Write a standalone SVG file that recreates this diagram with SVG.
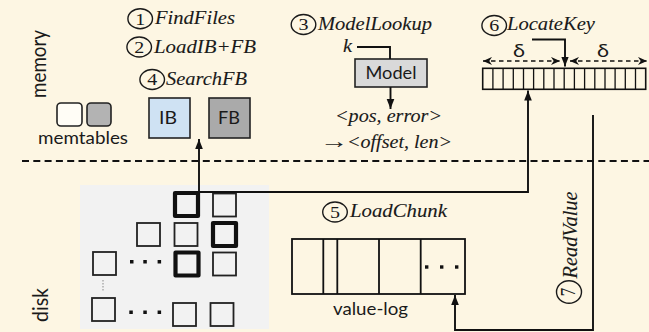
<svg xmlns="http://www.w3.org/2000/svg" width="649" height="332" viewBox="0 0 649 332">
  <defs>
    <style>
      .bg { fill: #fdf6e3; }
      .sans { font-family: Lato, "Noto Sans", "DejaVu Sans", sans-serif; fill: #1a1a1a; }
      .it { font-family: "Liberation Serif", "Times New Roman", serif; font-style: italic; fill: #1a1a1a; font-size: 19.5px; stroke: #1a1a1a; stroke-width: 0.1; }
      .num { font-family: "Liberation Serif", "Times New Roman", serif; fill: #1a1a1a; font-size: 17px; text-anchor: middle; }
      .ring { fill: none; stroke: #1a1a1a; stroke-width: 1.4; }
      .line { fill: none; stroke: #111; stroke-width: 1.9; }
      .box { stroke: #222; stroke-width: 1.6; }
      .sq { fill: none; stroke: #222; stroke-width: 1.8; }
      .sqb { fill: none; stroke: #111; stroke-width: 4.2; stroke-linejoin: round; }
      .dot { fill: #111; }
    </style>
    <marker id="arr" viewBox="0 0 10 10" refX="10" refY="5" markerWidth="10" markerHeight="10" markerUnits="userSpaceOnUse" orient="auto">
      <path d="M0,1.2 L10,5 L0,8.8 z" fill="#111"/>
    </marker>
    <marker id="barb" viewBox="0 0 10 10" refX="10" refY="5" markerWidth="9" markerHeight="9" markerUnits="userSpaceOnUse" orient="auto-start-reverse">
      <path d="M0,0.5 L10,5 L0,9.5 L3,5 z" fill="#111"/>
    </marker>
  </defs>

  <rect class="bg" x="0" y="0" width="649" height="332"/>

  <!-- memory / disk boundary -->
  <line x1="22" y1="161" x2="649" y2="161" stroke="#111" stroke-width="2" stroke-dasharray="7 4.3"/>

  <!-- side labels -->
  <text class="sans" font-size="17" text-anchor="middle" textLength="68" lengthAdjust="spacingAndGlyphs" transform="translate(46,64) scale(1.2,1) rotate(-90)">memory</text>
  <text class="sans" font-size="17" text-anchor="middle" textLength="34" lengthAdjust="spacingAndGlyphs" transform="translate(48,305) scale(1.2,1) rotate(-90)">disk</text>

  <!-- memtables -->
  <g id="memtables">
    <rect x="57" y="103" width="25" height="23" rx="4" fill="#fffdf6" class="box"/>
    <rect x="87" y="103" width="24" height="23" rx="4" fill="#b3b3b3" class="box"/>
    <text class="sans" font-size="17" x="83" y="144" text-anchor="middle" textLength="90" lengthAdjust="spacingAndGlyphs">memtables</text>
  </g>

  <!-- step labels -->
  <g id="step1">
    <ellipse class="ring" cx="140.2" cy="18.7" rx="12.3" ry="10"/>
    <text class="num" x="140.2" y="24.5" textLength="10" lengthAdjust="spacingAndGlyphs">1</text>
    <text class="it" x="155" y="24" textLength="80" lengthAdjust="spacingAndGlyphs">FindFiles</text>
  </g>
  <g id="step2">
    <ellipse class="ring" cx="139.2" cy="47" rx="12.3" ry="10"/>
    <text class="num" x="139.2" y="52.8" textLength="10" lengthAdjust="spacingAndGlyphs">2</text>
    <text class="it" x="154" y="53" textLength="102" lengthAdjust="spacingAndGlyphs">LoadIB+FB</text>
  </g>
  <g id="step4">
    <ellipse class="ring" cx="152.2" cy="79.5" rx="12.3" ry="10"/>
    <text class="num" x="152.2" y="85.3" textLength="10" lengthAdjust="spacingAndGlyphs">4</text>
    <text class="it" x="166" y="85" textLength="81" lengthAdjust="spacingAndGlyphs">SearchFB</text>
  </g>

  <!-- index / filter blocks -->
  <g id="IB">
    <rect x="149" y="98" width="41" height="40" fill="#cfe2f3" class="box"/>
    <text class="sans" font-size="18" x="168" y="124" text-anchor="middle" textLength="18" lengthAdjust="spacingAndGlyphs">IB</text>
  </g>
  <g id="FB">
    <rect x="209" y="98" width="41" height="40" fill="#aaaaaa" class="box"/>
    <text class="sans" font-size="18" x="229" y="124" text-anchor="middle" textLength="22" lengthAdjust="spacingAndGlyphs">FB</text>
  </g>

  <!-- model lookup -->
  <g id="step3">
    <ellipse class="ring" cx="303.5" cy="24.5" rx="12.3" ry="10"/>
    <text class="num" x="303.5" y="30.3" textLength="10" lengthAdjust="spacingAndGlyphs">3</text>
    <text class="it" x="318" y="30" textLength="114" lengthAdjust="spacingAndGlyphs">ModelLookup</text>
    <text class="it" x="343" y="52" textLength="9" lengthAdjust="spacingAndGlyphs">k</text>
  </g>
  <g id="Model">
    <rect x="355" y="59" width="72" height="28" fill="#d9d9d9" class="box"/>
    <text class="sans" font-size="18" x="391" y="79" text-anchor="middle" textLength="51" lengthAdjust="spacingAndGlyphs">Model</text>
  </g>
  <g id="model-output">
    <text class="it" x="335" y="122" textLength="107" lengthAdjust="spacingAndGlyphs">&lt;pos, error&gt;</text>
    <text class="it" transform="translate(320,148) scale(1.45,1)">→</text>
    <text class="it" x="347" y="148" textLength="105" lengthAdjust="spacingAndGlyphs">&lt;offset, len&gt;</text>
  </g>

  <!-- key array -->
  <g id="step6">
    <ellipse class="ring" cx="494.2" cy="25.5" rx="12.3" ry="10"/>
    <text class="num" x="494.2" y="31.3" textLength="10" lengthAdjust="spacingAndGlyphs">6</text>
    <text class="it" x="507" y="30" textLength="88" lengthAdjust="spacingAndGlyphs">LocateKey</text>
  </g>
  <g id="keys">
    <rect x="482.7" y="68.3" width="163" height="21" fill="none" stroke="#111" stroke-width="1.6"/>
    <path d="M492.9,68.3V89.3 M503.1,68.3V89.3 M513.3,68.3V89.3 M523.5,68.3V89.3 M533.6,68.3V89.3 M543.8,68.3V89.3 M554,68.3V89.3 M564.2,68.3V89.3 M574.4,68.3V89.3 M584.6,68.3V89.3 M594.8,68.3V89.3 M605,68.3V89.3 M615.1,68.3V89.3 M625.3,68.3V89.3 M635.5,68.3V89.3" stroke="#111" stroke-width="1.3"/>
    <text class="sans" font-size="18" x="519" y="57" text-anchor="middle" textLength="12" lengthAdjust="spacingAndGlyphs">δ</text>
    <text class="sans" font-size="18" x="603" y="57" text-anchor="middle" textLength="12" lengthAdjust="spacingAndGlyphs">δ</text>
  </g>

  <!-- on-disk levels -->
  <g id="levels">
    <rect x="80" y="185" width="189" height="144" fill="#f2f2f2"/>
    <rect class="sqb" x="175" y="193" width="23" height="23"/>
    <rect class="sq" x="213" y="193.5" width="23" height="23"/>
    <rect class="sq" x="137" y="223" width="23" height="23"/>
    <rect class="sq" x="174.5" y="223" width="23" height="23"/>
    <rect class="sqb" x="213" y="223" width="23" height="23"/>
    <rect class="sq" x="93" y="252" width="23" height="23"/>
    <rect class="sqb" x="175.5" y="252.5" width="23" height="23"/>
    <rect class="sq" x="213" y="252.5" width="23" height="23"/>
    <rect class="sq" x="92" y="298" width="23" height="23"/>
    <rect class="sq" x="173" y="303" width="23" height="23"/>
    <rect class="sq" x="210.5" y="303" width="23" height="23"/>
    <rect class="dot" x="130" y="260" width="3.5" height="3.5"/>
    <rect class="dot" x="143.3" y="260" width="3.5" height="3.5"/>
    <rect class="dot" x="157.6" y="260" width="3.5" height="3.5"/>
    <rect class="dot" x="129.3" y="310.5" width="3.5" height="3.5"/>
    <rect class="dot" x="143.3" y="310.5" width="3.5" height="3.5"/>
    <rect class="dot" x="157.6" y="310.5" width="3.5" height="3.5"/>
    <line x1="103" y1="280" x2="103" y2="291" stroke="#9a9a9a" stroke-width="1.2" stroke-dasharray="1.5 1.5"/>
  </g>

  <!-- value log -->
  <g id="step5">
    <ellipse class="ring" cx="335" cy="212" rx="12.3" ry="10"/>
    <text class="num" x="335" y="217.8" textLength="10" lengthAdjust="spacingAndGlyphs">5</text>
    <text class="it" x="350" y="217" textLength="97" lengthAdjust="spacingAndGlyphs">LoadChunk</text>
  </g>
  <g id="value-log">
    <rect x="292" y="239" width="173" height="55" fill="none" stroke="#111" stroke-width="1.8"/>
    <path d="M323.3,239V294 M337.3,239V294 M379,239V294 M420.7,239V294" stroke="#111" stroke-width="1.8"/>
    <rect class="dot" x="425" y="265.3" width="3.4" height="3.4"/>
    <rect class="dot" x="440" y="265.3" width="3.4" height="3.4"/>
    <rect class="dot" x="455" y="265.3" width="3.4" height="3.4"/>
    <text class="sans" font-size="18" x="370.5" y="315" text-anchor="middle" textLength="75" lengthAdjust="spacingAndGlyphs">value-log</text>
  </g>
  <g id="step7">
    <ellipse class="ring" cx="569" cy="292" rx="12.5" ry="11.3"/>
    <text class="num" transform="translate(575,292) scale(1.2,1) rotate(-90)" x="0" y="0">7</text>
    <text class="it" text-anchor="middle" textLength="87" lengthAdjust="spacingAndGlyphs" transform="translate(576.5,235) scale(1.1,1) rotate(-90)">ReadValue</text>
  </g>

  <!-- connectors -->
  <g id="connectors">
    <path class="line" d="M199,192 V139" marker-end="url(#arr)"/>
    <path class="line" d="M199,192 H528 V90.5" marker-end="url(#arr)"/>
    <path class="line" d="M357,47 H390 V59"/>
    <path class="line" d="M390.5,87 V109" marker-end="url(#arr)"/>
    <path class="line" d="M532,39.5 H565 V66.5" marker-end="url(#arr)"/>
    <path class="line" d="M593,115 V330 H455 V295" marker-end="url(#arr)"/>
    <path d="M483,61 H560" fill="none" stroke="#111" stroke-width="1.6" stroke-dasharray="4.5 3.5" marker-start="url(#barb)" marker-end="url(#barb)"/>
    <path d="M570,61 H647" fill="none" stroke="#111" stroke-width="1.6" stroke-dasharray="4.5 3.5" marker-start="url(#barb)" marker-end="url(#barb)"/>
  </g>
</svg>
